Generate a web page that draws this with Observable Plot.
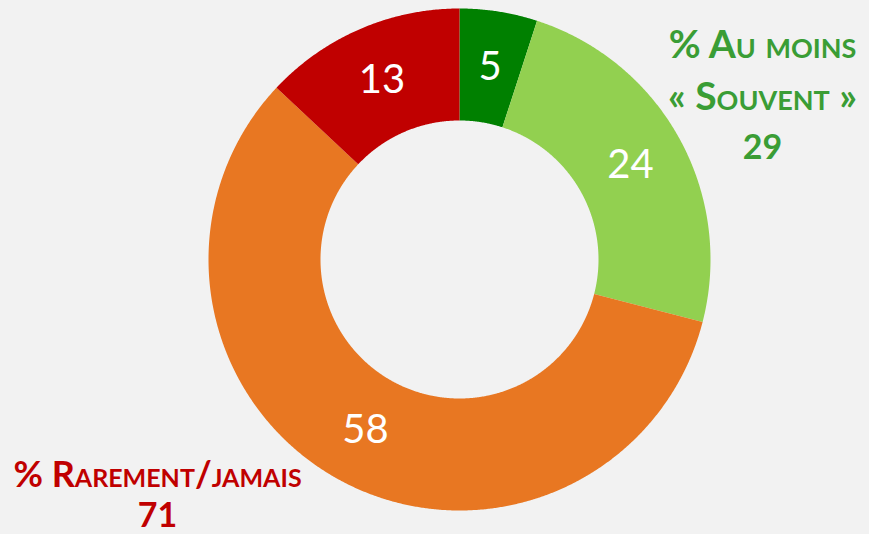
<!DOCTYPE html>
<html><head><meta charset="utf-8">
<script src="https://cdn.jsdelivr.net/npm/d3@7"></script>
<script src="https://cdn.jsdelivr.net/npm/@observablehq/plot@0.6"></script>
<style>html,body{margin:0;padding:0;background:#f2f2f2;overflow:hidden}</style>
</head><body><div id="chart"></div>
<script>
// Data (clockwise from 12 o'clock)
const categories = ["Très souvent", "Souvent", "Rarement", "Jamais"];
const values = [5, 24, 58, 13];
const colors = ["#008000", "#92d050", "#e87722", "#c00000"];
const groupNames = ["% Au moins\n« Souvent »", "% Rarement/jamais"];
const groupMembers = [[0, 1], [2, 3]];
const groupColors = ["#3a9d35", "#c00000"];

// Layout (pixels)
const W = 869, H = 534, CX = 459, CY = 259, R = 251, RIN = 139;
const toX = px => (px - CX) / R, toY = py => (CY - py) / R;
const inner = RIN / R, labelR = (1 + inner) / 2;

const total = d3.sum(values);
let acc = 0;
const slices = values.map((v, i) => {
  const a0 = acc / total * 2 * Math.PI; acc += v;
  const a1 = acc / total * 2 * Math.PI;
  return {cat: categories[i], value: v, a0, a1, mid: (a0 + a1) / 2};
});
const poly = [];
for (const s of slices) {
  const n = Math.max(8, Math.ceil((s.a1 - s.a0) / 0.005));
  for (let k = 0; k <= n; k++) { const a = s.a0 + (s.a1 - s.a0) * k / n; poly.push({cat: s.cat, x: Math.sin(a), y: Math.cos(a)}); }
  for (let k = n; k >= 0; k--) { const a = s.a0 + (s.a1 - s.a0) * k / n; poly.push({cat: s.cat, x: inner * Math.sin(a), y: inner * Math.cos(a)}); }
}
const groups = groupNames.map((name, i) => ({name, total: d3.sum(groupMembers[i], j => values[j]), color: groupColors[i]}));
const groupPos = [
  {lines: [[762, 57], [762, 109]], total: [762, 158], size: 39},
  {lines: [[157, 486]], total: [157, 526], size: 36}
];
const groupText = [];
groups.forEach((g, i) => {
  g.name.split("\n").forEach((t, k) => groupText.push({t, x: toX(groupPos[i].lines[k][0]), y: toY(groupPos[i].lines[k][1]), c: g.color, s: groupPos[i].size, caps: true}));
  groupText.push({t: String(g.total), x: toX(groupPos[i].total[0]), y: toY(groupPos[i].total[1]), c: g.color, caps: false});
});

const chart = Plot.plot({
  width: W, height: H, margin: 0,
  style: {background: "#f2f2f2", fontFamily: "Lato"},
  x: {domain: [toX(0), toX(W)], axis: null},
  y: {domain: [toY(H), toY(0)], axis: null},
  color: {domain: categories, range: colors},
  marks: [
    Plot.line(poly, {x: "x", y: "y", z: "cat", fill: "cat", stroke: "none", curve: "linear-closed"}),
    Plot.text(slices, {x: d => labelR * Math.sin(d.mid), y: d => labelR * Math.cos(d.mid), text: d => String(d.value), fill: "white", fontSize: 40, fontFamily: "Lato"}),
    Plot.text(groupText.filter(d => d.caps && d.s === 39), {x: "x", y: "y", text: "t", fill: d => d.c, fontSize: 39, fontWeight: "bold", fontVariant: "small-caps", lineAnchor: "bottom", textAnchor: "middle", fontFamily: "Lato"}),
    Plot.text(groupText.filter(d => d.caps && d.s === 36), {x: "x", y: "y", text: "t", fill: d => d.c, fontSize: 36, fontWeight: "bold", fontVariant: "small-caps", lineAnchor: "bottom", textAnchor: "middle", fontFamily: "Lato"}),
    Plot.text(groupText.filter(d => !d.caps), {x: "x", y: "y", text: "t", fill: d => d.c, fontSize: 34, fontWeight: "bold", lineAnchor: "bottom", textAnchor: "middle", fontFamily: "Lato"})
  ]
});
document.getElementById("chart").append(chart);
</script></body></html>
